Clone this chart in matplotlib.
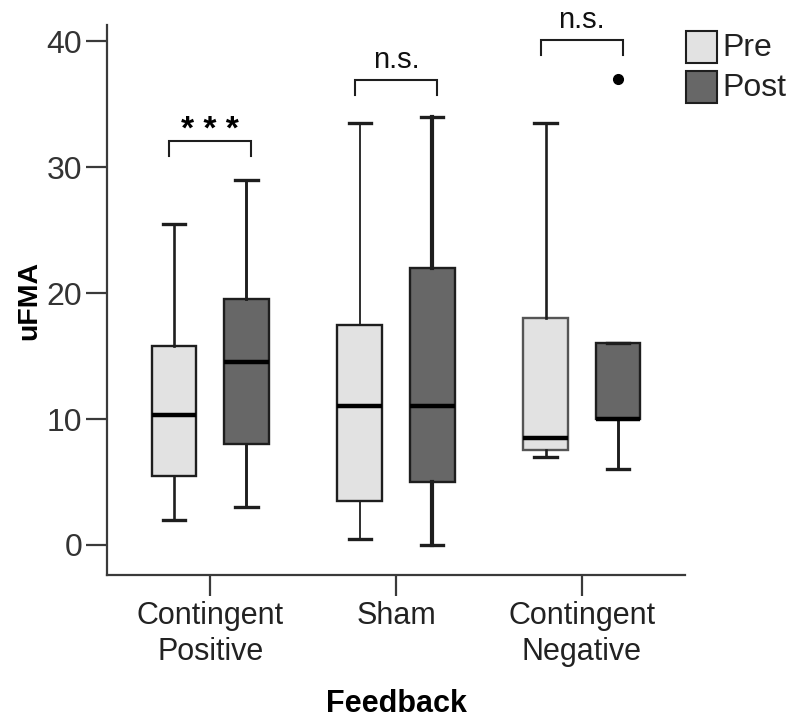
import matplotlib
matplotlib.use("Agg")
import matplotlib.pyplot as plt
from matplotlib.patches import Rectangle

plt.rcParams['font.family'] = ['Liberation Sans', 'DejaVu Sans']

# ---- data ----
categories = ["Contingent\nPositive", "Sham", "Contingent\nNegative"]
groups = ["Pre", "Post"]

pre_whislo = [2.0, 0.5, 7.0]
pre_q1 = [5.5, 3.5, 7.5]
pre_med = [10.3, 11.0, 8.5]
pre_q3 = [15.8, 17.5, 18.0]
pre_whishi = [25.5, 33.5, 33.5]
pre_fliers = [[], [], []]

post_whislo = [3.0, 0.0, 6.0]
post_q1 = [8.0, 5.0, 10.0]
post_med = [14.5, 11.0, 10.0]
post_q3 = [19.5, 22.0, 16.0]
post_whishi = [29.0, 34.0, 16.0]
post_fliers = [[], [], [37.0]]

sig_labels = ["* * *", "n.s.", "n.s."]
sig_heights = [32.1, 36.9, 40.1]

yticks = [0, 10, 20, 30, 40]

# ---- styling ----
pre_color = "#e2e2e2"
post_color = "#676767"
edge = "#1e1e1e"
axis_col = "#3a3a3a"

fig = plt.figure(figsize=(7.92, 7.2), dpi=100)
ax = fig.add_axes([107/792, 1-575/720, (685-107)/792, (575-25)/720])

offset = 0.195
width = 0.24

def stats(lo, q1, med, q3, hi, fl):
    return [dict(whislo=a, q1=b, med=c, q3=d, whishi=e, fliers=f)
            for a, b, c, d, e, f in zip(lo, q1, med, q3, hi, fl)]

pre_stats = stats(pre_whislo, pre_q1, pre_med, pre_q3, pre_whishi, pre_fliers)
post_stats = stats(post_whislo, post_q1, post_med, post_q3, post_whishi, post_fliers)

xs = list(range(len(categories)))
common = dict(widths=width, patch_artist=True, showfliers=True,
              medianprops=dict(color="black", linewidth=3.2),
              capprops=dict(color=edge, linewidth=2.4),
              flierprops=dict(marker='o', markerfacecolor='black',
                              markeredgecolor='black', markersize=7))

b1 = ax.bxp(pre_stats, positions=[x - offset for x in xs],
            boxprops=dict(facecolor=pre_color, edgecolor=edge, linewidth=1.7),
            whiskerprops=dict(color=edge, linewidth=1.9), **common)
b2 = ax.bxp(post_stats, positions=[x + offset for x in xs],
            boxprops=dict(facecolor=post_color, edgecolor=edge, linewidth=1.7),
            whiskerprops=dict(color=edge, linewidth=2.1), **common)
for c in b1['caps'] + b2['caps']:
    xd = c.get_xdata()
    m = (xd[0] + xd[1]) / 2
    c.set_xdata([m - 0.06, m + 0.06])
# Sham: thin pre whiskers, heavy post whiskers
for w in b1['whiskers'][2:4]:
    w.set_linewidth(1.3)
for w in b2['whiskers'][2:4]:
    w.set_linewidth(3.0)
b1['boxes'][2].set_edgecolor("#555555")

# significance brackets
for x, h, lab in zip(xs, sig_heights, sig_labels):
    x0, x1 = x - 0.22, x + 0.22
    ax.plot([x0, x0, x1, x1], [h - 1.2, h, h, h - 1.2], color=edge,
            linewidth=1.5, clip_on=False, solid_joinstyle='miter')
    if lab.startswith("*"):
        ax.text(x, h - 0.45, lab, ha='center', va='bottom', fontsize=24,
                fontweight='bold', clip_on=False)
    else:
        ax.text(x, h + 0.5, lab, ha='center', va='bottom', fontsize=21,
                color="#111111", clip_on=False)

ax.set_xlim(-0.555, 2.555)
ax.set_ylim(-2.39, 41.3)
ax.set_xticks(xs)
ax.set_xticklabels(categories, fontsize=22, color="#222222", linespacing=1.25)
ax.set_yticks(yticks)
ax.set_yticklabels([str(v) for v in yticks], fontsize=23, color="#333333")
ax.tick_params(axis='both', direction='out', length=15, width=1.6, color=axis_col)
ax.tick_params(axis='x', pad=4)
ax.tick_params(axis='y', pad=3)

for s in ['top', 'right']:
    ax.spines[s].set_visible(False)
for s in ['left', 'bottom']:
    ax.spines[s].set_color(axis_col)
    ax.spines[s].set_linewidth(1.6)

ax.set_ylabel("uFMA", fontsize=20.5, fontweight='bold', labelpad=3)
ax.set_xlabel("Feedback", fontsize=22, fontweight='bold', labelpad=16)

# legend drawn manually at the top right
leg_items = [("Pre", pre_color, 31), ("Post", post_color, 71)]
for lab, col, ytop in leg_items:
    fig.patches.append(Rectangle((686/792, 1-(ytop+32)/720), 31/792, 32/720,
                                 transform=fig.transFigure, facecolor=col,
                                 edgecolor=edge, linewidth=1.5))
    fig.text(722/792, 1-(ytop+17)/720, lab, fontsize=23, va='center', ha='left',
             color="#222222")

fig.savefig("out.png", dpi=100)
